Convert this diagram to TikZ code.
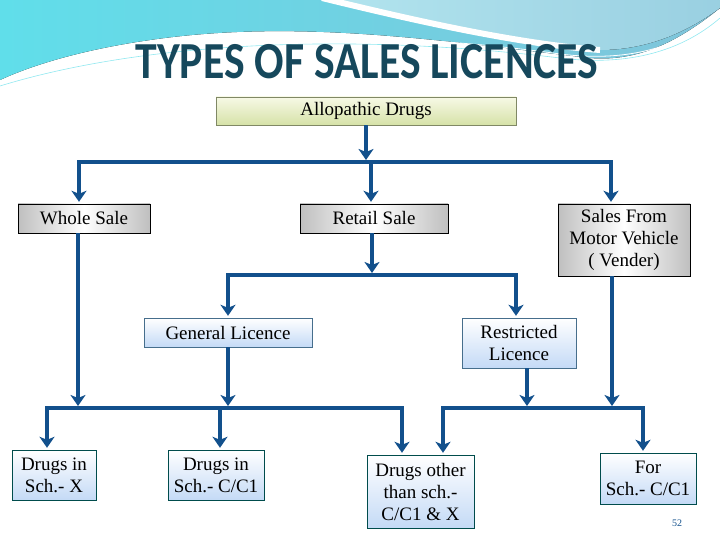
\documentclass[tikz,border=0pt]{standalone}
\usepackage{fontspec}
\setmainfont{Liberation Serif}
\newfontfamily\titlefont{Carlito}
\usetikzlibrary{arrows.meta,positioning,shadings}

\definecolor{linkblue}{RGB}{18,80,140}
\definecolor{titleteal}{RGB}{22,72,92}
\definecolor{waveblue}{RGB}{128,196,218}
\definecolor{wavecyan}{RGB}{96,222,234}
\definecolor{wavelight}{RGB}{178,228,238}
\definecolor{boxblue}{RGB}{196,218,246}
\definecolor{boxedge}{RGB}{70,110,140}
\definecolor{olivetop}{RGB}{247,249,230}
\definecolor{olivebot}{RGB}{214,226,168}

\tikzset{
  box/.style={rectangle, inner sep=0pt, align=center, font=\fontsize{19}{22}\selectfont},
  greybox/.style={box, draw=black, left color=gray!50, right color=gray!50, middle color=white},
  bluebox/.style={box, draw=boxedge, top color=white, bottom color=boxblue},
  feed/.style={->, draw=linkblue, line width=4pt, shorten >=2pt},
  busline/.style={draw=linkblue, line width=4pt}
}

\begin{document}
\begin{tikzpicture}[x=1pt, y=-1pt, >={Stealth[length=11pt, width=15pt, inset=3pt]}]
        \useasboundingbox (0,0) rectangle (720,540);
        % Wave decoration at the top
        \fill[left color=wavecyan, right color=waveblue] (0,0) -- (720,0) -- (720,8)
            .. controls (680,40) and (640,62) .. (590,58)
            .. controls (450,42) and (300,18) .. (150,40)
            .. controls (80,50) and (30,66) .. (0,80) -- cycle;
        \fill[left color=wavelight, right color=waveblue!80] (330,0) -- (720,0) -- (720,8)
            .. controls (690,30) and (650,50) .. (600,50)
            .. controls (520,42) and (420,20) .. (330,0) -- cycle;
        \draw[white, line width=6pt] (322,-2) .. controls (420,22) and (520,44) .. (600,50);
        \draw[white, line width=0.8pt] (0,82) .. controls (120,40) and (330,22) .. (560,54) .. controls (640,64) and (690,40) .. (720,12);
        \draw[wavecyan!70!white, line width=0.6pt] (0,86) .. controls (130,46) and (330,30) .. (560,58) .. controls (640,68) and (690,44) .. (720,18);

        % Title
        \node[font=\titlefont\bfseries\fontsize{52}{52}\selectfont, text=titleteal] (title) at (367,62) {\scalebox{0.84}[1]{TYPES OF SALES LICENCES}};

        % Boxes
        \node[box, draw=olivebot!60!black, top color=olivetop, bottom color=olivebot, minimum width=300pt, minimum height=28pt] (allo) at (366,111) {Allopathic Drugs};
        \node[greybox, minimum width=132pt, minimum height=29pt] (whole) at (84,218.5) {Whole Sale};
        \node[greybox, minimum width=148pt, minimum height=29pt] (retail) at (374,218.5) {Retail Sale};
        \node[greybox, minimum width=132pt, minimum height=72pt] (vend) at (624,240) {Sales From\\Motor Vehicle\\( Vender)};
        \node[bluebox, minimum width=168pt, minimum height=29pt] (gen) at (228,332.5) {General Licence};
        \node[bluebox, minimum width=114pt, minimum height=50pt] (restr) at (519,343) {Restricted\\Licence};
        \node[bluebox, draw=teal!60!black, minimum width=84pt, minimum height=50pt] (schx) at (54,475) {Drugs in\\Sch.- X};
        \node[bluebox, draw=teal!60!black, minimum width=96pt, minimum height=50pt] (schc) at (216,475) {Drugs in\\Sch.- C/C1};
        \node[bluebox, draw=teal!60!black, minimum width=107pt, minimum height=73pt] (other) at (420.5,491.5) {Drugs other\\than sch.-\\C/C1 \& X};
        \node[bluebox, draw=teal!60!black, minimum width=96pt, minimum height=51pt] (forsch) at (648,478.5) {For\\Sch.- C/C1};

        % Bus junctions
        \coordinate (t1) at (79,162);
        \coordinate (t2) at (371,162);
        \coordinate (t3) at (611,162);
        \coordinate (m1) at (228,275);
        \coordinate (m2) at (516,275);
        \coordinate (b1) at (47,408);
        \coordinate (b2) at (220,408);
        \coordinate (b3) at (402,408);
        \coordinate (b4) at (443,408);
        \coordinate (b5) at (643,408);

        % First level
        \draw[feed] (allo.south) -- (allo.south |- t2);
        \draw[feed] (t2) -- (t1) -- (t1 |- whole.north);
        \draw[feed] (t2) -- (t3) -- (t3 |- vend.north);
        \draw[feed] (t2) -- (t2 |- retail.north);

        % Retail branches
        \draw[feed] ([xshift=-2pt]retail.south) -- ([xshift=-2pt]retail.south |- m1);
        \draw[busline] (m1) -- (m2);
        \draw[feed] (m2) -- (m1) -- (m1 |- gen.north);
        \draw[feed] (m1) -- (m2) -- (m2 |- restr.north);

        % Feeders into the lower buses
        \draw[feed] ([xshift=-6pt]whole.south) -- ([xshift=-6pt]whole.south |- b1);
        \draw[feed] (gen.south) -- (gen.south |- b1);
        \draw[feed] ([xshift=8pt]restr.south) -- ([xshift=8pt]restr.south |- b4);
        \draw[feed] ([xshift=-12pt]vend.south) -- ([xshift=-12pt]vend.south |- b4);

        % Lower buses
        \draw[feed] (b2) -- (b1) -- (b1 |- schx.north);
        \draw[feed] (b2) -- (b3) -- (b3 |- other.north);
        \draw[feed] (b2) -- (b2 |- schc.north);
        \draw[feed] (b5) -- (b4) -- (b4 |- other.north);
        \draw[feed] (b4) -- (b5) -- (b5 |- forsch.north);

        % Slide number
        \node[font=\fontsize{10}{10}\selectfont, text=linkblue] (pgnum) at (677,523) {52};
\end{tikzpicture}
\end{document}
